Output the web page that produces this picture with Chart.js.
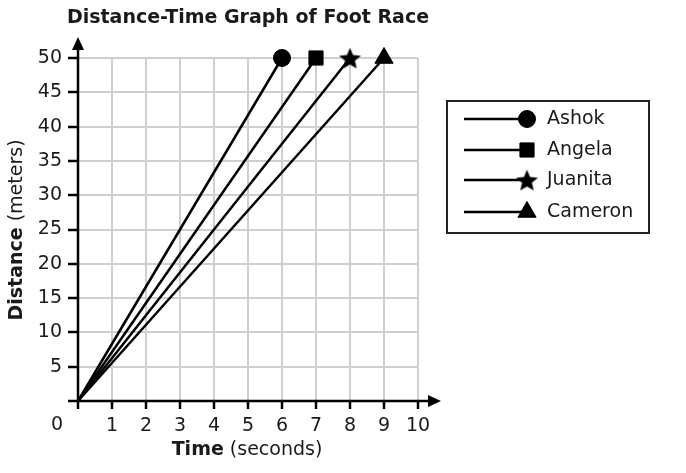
<!DOCTYPE html>
<html>
<head>
<meta charset="utf-8">
<script src="https://cdn.jsdelivr.net/npm/chart.js@4.4.0/dist/chart.umd.js"></script>
<style>
  html, body { margin: 0; padding: 0; background: #fff; }
  #wrap { width: 686px; height: 473px; position: relative; }
</style>
</head>
<body>
<div id="wrap"><canvas id="race" width="686" height="473"></canvas></div>
<script>
// values
const runners = ['Ashok', 'Angela', 'Juanita', 'Cameron'];
const startTimes = [0, 0, 0, 0];       // seconds
const finishTimes = [6, 7, 8, 9];      // seconds
const startDistance = 0;               // meters
const finishDistance = 50;             // meters
const markerStyles = ['circle', 'rect', 'star', 'triangle'];
const markerSizes = [8.5, 10, 11, 10.5];
const xTicks = [0, 1, 2, 3, 4, 5, 6, 7, 8, 9, 10];
const yTicks = [0, 5, 10, 15, 20, 25, 30, 35, 40, 45, 50];

const FONT = "'DejaVu Sans', Verdana, sans-serif";
const FS = 19;
const TEXT = '#1a1a1a';

// Chart.js "star" is a stroked asterisk, the picture has a filled star
function makeStar(size) {
  const c = document.createElement('canvas');
  c.width = size; c.height = size;
  const g = c.getContext('2d');
  const R = size / 2, r = R * 0.45;
  g.beginPath();
  for (let i = 0; i < 10; i++) {
    const a = -Math.PI / 2 + i * Math.PI / 5;
    const rad = i % 2 === 0 ? R : r;
    g.lineTo(R + rad * Math.cos(a), R + 1.2 + rad * Math.sin(a));
  }
  g.closePath();
  g.fillStyle = '#000';
  g.fill();
  return c;
}
const starImg = makeStar(23);

function styleFor(i) {
  return markerStyles[i] === 'star' ? starImg : markerStyles[i];
}

const datasets = runners.map((name, i) => ({
  label: name,
  data: [
    { x: startTimes[i], y: startDistance },
    { x: finishTimes[i], y: finishDistance }
  ],
  borderColor: '#000',
  backgroundColor: '#000',
  borderWidth: 2.5,
  pointRadius: [0, markerSizes[i]],
  pointHoverRadius: [0, markerSizes[i]],
  pointStyle: styleFor(i),
  pointBackgroundColor: '#000',
  pointBorderColor: '#000',
  pointBorderWidth: 1,
  showLine: true,
  tension: 0,
  clip: false
}));

const decorPlugin = {
  id: 'decor',
  beforeDatasetsDraw(chart) {
    const ctx = chart.ctx;
    const xs = chart.scales.x, ys = chart.scales.y;
    const x0 = xs.getPixelForValue(0), y0 = ys.getPixelForValue(0);
    const xEnd = xs.getPixelForValue(10), yEnd = ys.getPixelForValue(50);
    ctx.save();
    ctx.strokeStyle = '#000';
    ctx.fillStyle = '#000';
    ctx.lineWidth = 2.5;
    // x axis with arrow
    ctx.beginPath();
    ctx.moveTo(x0, y0);
    ctx.lineTo(xEnd + 12, y0);
    ctx.stroke();
    ctx.beginPath();
    ctx.moveTo(xEnd + 23, y0);
    ctx.lineTo(xEnd + 10, y0 - 6);
    ctx.lineTo(xEnd + 10, y0 + 6);
    ctx.closePath();
    ctx.fill();
    // y axis with arrow
    ctx.beginPath();
    ctx.moveTo(x0, y0);
    ctx.lineTo(x0, yEnd - 10);
    ctx.stroke();
    ctx.beginPath();
    ctx.moveTo(x0, yEnd - 21);
    ctx.lineTo(x0 - 6, yEnd - 8);
    ctx.lineTo(x0 + 6, yEnd - 8);
    ctx.closePath();
    ctx.fill();
    ctx.restore();
  },
  afterDraw(chart) {
    const ctx = chart.ctx;
    ctx.save();
    ctx.fillStyle = TEXT;

    // title
    ctx.font = 'bold ' + FS + 'px ' + FONT;
    ctx.textAlign = 'center';
    ctx.textBaseline = 'middle';
    ctx.fillText('Distance-Time Graph of Foot Race', 248, 18);

    // origin label
    ctx.font = FS + 'px ' + FONT;
    ctx.fillText('0', 57, 425);

    // axis titles, bold word + normal unit
    const drawMixed = (bold, rest, cx, cy) => {
      ctx.font = 'bold ' + FS + 'px ' + FONT;
      const wb = ctx.measureText(bold).width;
      ctx.font = FS + 'px ' + FONT;
      const wr = ctx.measureText(rest).width;
      const left = cx - (wb + wr) / 2;
      ctx.textAlign = 'left';
      ctx.font = 'bold ' + FS + 'px ' + FONT;
      ctx.fillText(bold, left, cy);
      ctx.font = FS + 'px ' + FONT;
      ctx.fillText(rest, left + wb, cy);
    };
    drawMixed('Time', ' (seconds)', 247, 450);

    ctx.save();
    ctx.translate(17, 230);
    ctx.rotate(-Math.PI / 2);
    drawMixed('Distance', ' (meters)', 0, 0);
    ctx.restore();

    // legend box
    const bx = 447, by = 101, bw = 202, bh = 132;
    ctx.strokeStyle = '#222';
    ctx.lineWidth = 2;
    ctx.strokeRect(bx, by, bw, bh);
    const rowY = [119, 150, 180, 212];
    chart.data.datasets.forEach((ds, i) => {
      const y = rowY[i];
      ctx.strokeStyle = '#000';
      ctx.fillStyle = '#000';
      ctx.lineWidth = 2.5;
      ctx.beginPath();
      ctx.moveTo(464, y);
      ctx.lineTo(527, y);
      ctx.stroke();
      ctx.lineWidth = 1;
      Chart.helpers.drawPoint(ctx, {
        pointStyle: ds.pointStyle,
        radius: markerSizes[i],
        rotation: 0,
        borderWidth: 1
      }, 527, y);
      ctx.fillStyle = TEXT;
      ctx.font = FS + 'px ' + FONT;
      ctx.textAlign = 'left';
      ctx.textBaseline = 'middle';
      ctx.fillText(ds.label, 547, y);
    });
    ctx.restore();
  }
};

new Chart(document.getElementById('race'), {
  type: 'scatter',
  data: { datasets },
  options: {
    responsive: false,
    devicePixelRatio: 1,
    animation: false,
    layout: { padding: { left: 0, right: 268, top: 58, bottom: 30 } },
    plugins: { legend: { display: false }, tooltip: { enabled: false }, title: { display: false } },
    scales: {
      x: {
        type: 'linear',
        min: 0,
        max: 10,
        afterBuildTicks: s => { s.ticks = xTicks.map(v => ({ value: v })); },
        afterFit: s => { s.height = 42; },
        border: { display: false },
        grid: { color: '#cfcfcf', lineWidth: 2, tickColor: '#000', tickLength: 8, tickWidth: 2.5 },
        ticks: {
          padding: 6,
          color: TEXT,
          font: { family: FONT, size: FS },
          maxRotation: 0,
          autoSkip: false,
          callback: v => (v === 0 ? '' : String(v))
        }
      },
      y: {
        type: 'linear',
        min: 0,
        max: 50,
        afterBuildTicks: s => { s.ticks = yTicks.map(v => ({ value: v })); },
        afterFit: s => { s.width = 78; },
        border: { display: false },
        grid: { color: '#cfcfcf', lineWidth: 2, tickColor: '#000', tickLength: 10, tickWidth: 2.5 },
        ticks: {
          padding: 6,
          color: TEXT,
          font: { family: FONT, size: FS },
          autoSkip: false,
          callback: v => (v === 0 ? '' : String(v))
        }
      }
    }
  },
  plugins: [decorPlugin]
});
</script>
</body>
</html>
